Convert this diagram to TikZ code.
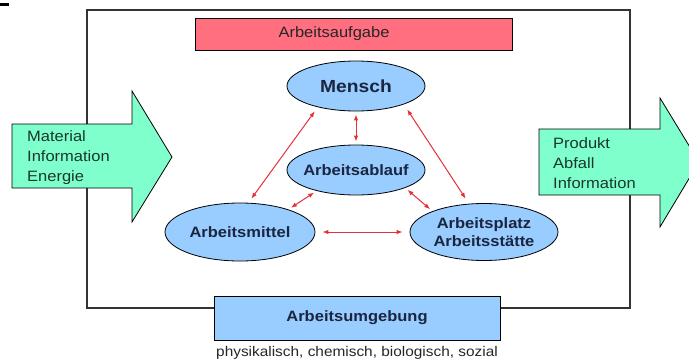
\documentclass[tikz,border=0pt]{standalone}
\usepackage{fontspec}
\setmainfont{Liberation Sans}[FakeStretch=1.1]
\usetikzlibrary{shapes.geometric,arrows.meta}
\definecolor{aufgabered}{RGB}{255,111,128}
\definecolor{feldblue}{RGB}{153,204,255}
\definecolor{pfeilgreen}{RGB}{127,255,204}
\definecolor{bezugred}{RGB}{228,48,58}
\definecolor{textnavy}{RGB}{26,37,64}
\definecolor{textgreen}{RGB}{25,55,45}

\begin{document}
\begin{tikzpicture}[x=1pt,y=-1pt,>={Latex[length=6pt,width=4.5pt]}]
    \tikzstyle{element}=[ellipse,draw=black,fill=feldblue,line width=0.8pt,inner xsep=-10pt,inner ysep=0pt,align=center,text=textnavy,font=\fontsize{15}{18}\selectfont\bfseries]
    \tikzstyle{balken}=[rectangle,draw=black,line width=0.8pt,inner sep=0pt]
    \tikzstyle{fluss}=[draw=black,fill=pfeilgreen,line width=0.8pt]
    \tikzstyle{fluesse}=[align=left,anchor=west,inner sep=0pt,text=textgreen,font=\fontsize{15}{20}\selectfont]
    \tikzstyle{bezug}=[<->,draw=bezugred,line width=1pt]
    \useasboundingbox (0,0) rectangle (689,362);
    \clip (0,0) rectangle (689,362);

    \fill[black] (0,3) rectangle (9,6);
    % Rahmen
    \draw[line width=1.5pt,draw=black!80] (87,10) rectangle (630,308);

    % Ein- und Ausgang
    \filldraw[fluss] (12,124) -- (132,124) -- (132,91) -- (172,157) -- (132,222) -- (132,188) -- (12,188) -- cycle;
    \node[fluesse] (eingang) at (27,158) {Material\\Information\\Energie};
    \filldraw[fluss] (539,129) -- (660,129) -- (660,98) -- (699,162) -- (660,227) -- (660,195) -- (539,195) -- cycle;
    \node[fluesse] (ausgang) at (553,163) {Produkt\\Abfall\\Information};

    % Aufgabe und Umgebung
    \node[balken,fill=aufgabered,minimum width=317pt,minimum height=32pt] (aufgabe) at (353.5,34) {};
    \node[font=\fontsize{15}{18}\selectfont,text=black!85] (aufgabetext) at (334,34) {Arbeitsaufgabe};
    \node[balken,fill=feldblue,minimum width=286pt,minimum height=44pt,font=\fontsize{15}{18}\selectfont\bfseries,text=textnavy] (umgebung) at (357,318) {Arbeitsumgebung};
    \node[font=\fontsize{14}{16}\selectfont,text=black!85] (faktoren) at (357,353) {physikalisch, chemisch, biologisch, sozial};

    % Elemente
    \node[element,minimum width=138pt,minimum height=50pt,font=\fontsize{17.5}{20}\selectfont\bfseries] (mensch) at (356,86) {Mensch};
    \node[element,minimum width=138pt,minimum height=50pt] (ablauf) at (356,170) {Arbeitsablauf};
    \node[element,minimum width=150pt,minimum height=58pt] (mittel) at (240,232) {Arbeitsmittel};
    \node[element,minimum width=148pt,minimum height=57pt] (platz) at (484,232) {Arbeitsplatz\\Arbeitsstätte};

    % Beziehungen
    \foreach \von/\nach/\luecke in {mensch.209/mittel.74/5pt, mensch.south/ablauf.north/3pt, mensch.339/platz.118/6pt,
                                    ablauf.208/mittel.25/3pt, ablauf.340/platz.158/3pt, mittel.east/platz.west/7pt}
        \draw[bezug,shorten <=\luecke,shorten >=\luecke] (\von) -- (\nach);
\end{tikzpicture}
\end{document}
